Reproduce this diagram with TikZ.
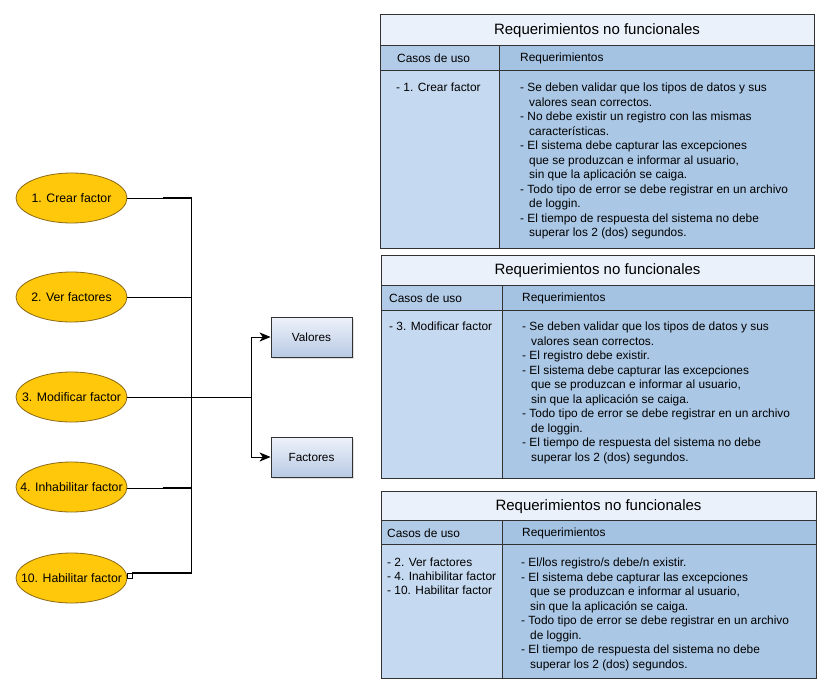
\documentclass[tikz,border=0pt]{standalone}
\usepackage{fontspec}
\setmainfont{Liberation Sans}
\usetikzlibrary{shapes.geometric,arrows.meta,calc,shadows}
\definecolor{ellfill}{RGB}{255,200,10}
\definecolor{elldraw}{RGB}{140,105,20}
\definecolor{titlefill}{RGB}{234,241,250}
\definecolor{hdrL}{RGB}{178,203,231}
\definecolor{hdrR}{RGB}{164,194,225}
\definecolor{bodyL}{RGB}{197,217,240}
\definecolor{bodyR}{RGB}{170,199,229}
\definecolor{tline}{RGB}{50,50,50}
\definecolor{boxA}{RGB}{238,242,250}
\definecolor{boxB}{RGB}{184,202,228}
\begin{document}
\begin{tikzpicture}[x=1pt,y=-1pt,
  ell/.style={ellipse,draw=elldraw,fill=ellfill,line width=0.8pt,minimum width=111pt,minimum height=50pt,inner sep=0pt},
  elltext/.style={font=\fontsize{12.3}{14}\selectfont,inner sep=0pt},
  entity/.style={draw=tline,line width=0.8pt,minimum width=81pt,minimum height=40pt,inner sep=0pt,
     left color=boxA,right color=boxB,shading angle=0,
     drop shadow={shadow xshift=2pt,shadow yshift=-2pt,fill=black!25},font=\fontsize{11.8}{14}\selectfont},
  conn/.style={line width=0.9pt,black},
  heavy/.style={line width=2pt,black},
  arr/.style={conn,-{Stealth[length=11pt,width=9pt,inset=3pt]}},
  ttitle/.style={font=\fontsize{15}{18}\selectfont,inner sep=0pt},
  thead/.style={font=\fontsize{11.9}{14}\selectfont,inner sep=0pt,anchor=west},
  tbody/.style={font=\fontsize{11.9}{14.5}\selectfont,inner sep=0pt,anchor=north west,align=left},
  tborder/.style={draw=tline,line width=1pt},
  tinner/.style={draw=tline,line width=0.8pt}
]
\useasboundingbox[fill=white] (0,0) rectangle (832,695);

% ---------- tables ----------
\newcommand{\mytable}[7]{%
  % #1 L, #2 R, #3 T, #4 title bottom, #5 header bottom, #6 bottom, #7 divider
  \fill[titlefill] (#1,#3) rectangle (#2,#4);
  \fill[hdrL] (#1,#4) rectangle (#7,#5);
  \fill[hdrR] (#7,#4) rectangle (#2,#5);
  \fill[bodyL] (#1,#5) rectangle (#7,#6);
  \fill[bodyR] (#7,#5) rectangle (#2,#6);
  \draw[tinner] (#1,#4) -- (#2,#4);
  \draw[tinner] (#1,#5) -- (#2,#5);
  \draw[tinner] (#7,#4) -- (#7,#6);
  \draw[tborder] (#1,#3) rectangle (#2,#6);
}
\mytable{380}{814}{15}{45}{70}{248}{499}
\mytable{381}{814}{255}{285}{310}{478}{502}
\mytable{381}{816}{491}{520}{544}{678}{502}

\newcommand{\ind}{\hspace*{9pt}}

% table 1
\node[ttitle] (t1title) at (597,31) {Requerimientos no funcionales};
\node[thead] (t1h1) at (397,58.5) {Casos de uso};
\node[thead] (t1h2) at (520,58.5) {Requerimientos};
\node[tbody] (t1c1) at (396,83) {- 1. Crear factor};
\node[tbody] (t1c2) at (520,83) {- Se deben validar que los tipos de datos y sus\\
\ind valores sean correctos.\\
- No debe existir un registro con las mismas\\
\ind caracter\'isticas.\\
- El sistema debe capturar las excepciones\\
\ind que se produzcan e informar al usuario,\\
\ind sin que la aplicaci\'on se caiga.\\
- Todo tipo de error se debe registrar en un archivo\\
\ind de loggin.\\
- El tiempo de respuesta del sistema no debe\\
\ind superar los 2 (dos) segundos.};

% table 2
\node[ttitle] (t2title) at (597.5,271) {Requerimientos no funcionales};
\node[thead] (t2h1) at (389,298) {Casos de uso};
\node[thead] (t2h2) at (522,298) {Requerimientos};
\node[tbody] (t2c1) at (389,322) {- 3. Modificar factor};
\node[tbody] (t2c2) at (522,322) {- Se deben validar que los tipos de datos y sus\\
\ind valores sean correctos.\\
- El registro debe existir.\\
- El sistema debe capturar las excepciones\\
\ind que se produzcan e informar al usuario,\\
\ind sin que la aplicaci\'on se caiga.\\
- Todo tipo de error se debe registrar en un archivo\\
\ind de loggin.\\
- El tiempo de respuesta del sistema no debe\\
\ind superar los 2 (dos) segundos.};

% table 3
\node[ttitle] (t3title) at (598.5,506.5) {Requerimientos no funcionales};
\node[thead] (t3h1) at (387,533) {Casos de uso};
\node[thead] (t3h2) at (522,533) {Requerimientos};
\node[tbody,font=\fontsize{11.9}{14}\selectfont] (t3c1) at (387,558) {- 2. Ver factores\\
- 4. Inahibilitar factor\\
- 10. Habilitar factor};
\node[tbody] (t3c2) at (521,558) {- El/los registro/s debe/n existir.\\
- El sistema debe capturar las excepciones\\
\ind que se produzcan e informar al usuario,\\
\ind sin que la aplicaci\'on se caiga.\\
- Todo tipo de error se debe registrar en un archivo\\
\ind de loggin.\\
- El tiempo de respuesta del sistema no debe\\
\ind superar los 2 (dos) segundos.};

% ---------- use cases ----------
\node[ell] (e1) at (71.5,198) {};
\node[ell] (e2) at (71.5,297) {};
\node[ell] (e3) at (71.5,397) {};
\node[ell] (e4) at (71.5,487) {};
\node[ell] (e5) at (71.5,578) {};
\node[elltext] (e1t) at (e1) {1. Crear factor};
\node[elltext] (e2t) at (e2) {2. Ver factores};
\node[elltext] (e3t) at (e3) {3. Modificar factor};
\node[elltext] (e4t) at (e4) {4. Inhabilitar factor};
\node[elltext] (e5t) at (e5) {10. Habilitar factor};

% ---------- entities ----------
\node[entity] (val) at (311.5,337) {Valores};
\node[entity] (fac) at (311.5,457) {Factores};

% ---------- connectors ----------
\coordinate (b1) at (191.5,198);
\coordinate (b5) at (191.5,573);
\coordinate (j3) at (251.5,397);
\node[draw=black,fill=white,line width=0.7pt,minimum size=5pt,inner sep=0pt] (sq) at (129.5,575.5) {};

\draw[conn] (e1.east) -- (b1);
\draw[heavy] ($(b1)+(-29,0)$) -- (b1);
\draw[conn] (b1) -- (b5);
\draw[conn] (e2.east) -- (e2.east -| b1);
\draw[conn] (e3.east) -- (j3);
\draw[conn] ($(e4.east)+(0,1)$) -- ($(e4.east -| b1)+(0,1)$);
\draw[heavy] ($(e4.east -| b1)+(-29,1)$) -- ($(e4.east -| b1)+(0,1)$);
\draw[heavy] (sq.north east) -- (sq.north east -| b5);
\draw[arr] (j3) |- (val.west);
\draw[arr] (j3) |- (fac.west);
\end{tikzpicture}
\end{document}
